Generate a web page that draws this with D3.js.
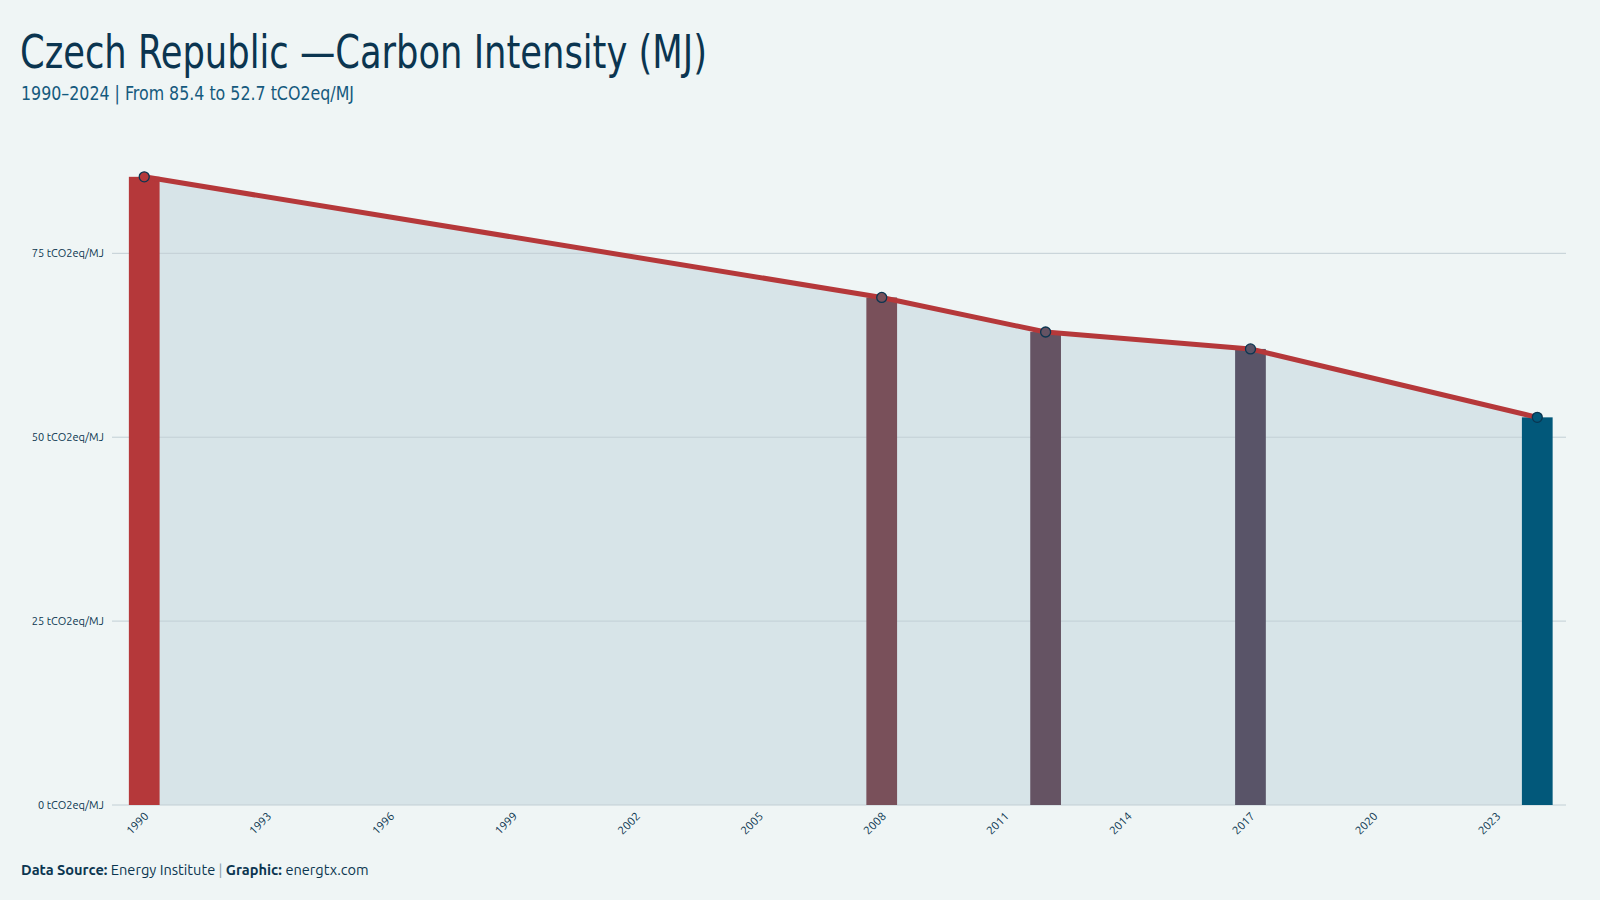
<!doctype html>
<html lang="en">
    <head>
        <meta charset="utf-8">
        <title>Czech Republic - Carbon Intensity</title>
        <script type="text/javascript" src="https://cdn.jsdelivr.net/npm/d3@7"></script>
        <style>
            body { margin: 0; background: #eff5f5; }
            svg { display: block; }
            .ylab { font-family: "Ubuntu", "Noto Sans", sans-serif; font-size: 11px; fill: #0b3550; }
            .xlab { font-family: "Ubuntu", "Noto Sans", sans-serif; font-size: 11.5px; fill: #0b3550; }
            .footer { font-family: "Ubuntu", "Noto Sans", sans-serif; font-size: 14.6px; fill: #0b3550; }
        </style>
    </head>
    <body>
        <script type="text/javascript">

            var svgW = 1600;
            var svgH = 900;

            // data
            var allYears = d3.range(1990, 2025);
            var years = [1990, 2008, 2012, 2017, 2024];
            var intensity = [85.4, 69.0, 64.3, 62.0, 52.7];
            var yTicks = [0, 25, 50, 75];
            var xTickYears = [1990, 1993, 1996, 1999, 2002, 2005, 2008, 2011, 2014, 2017, 2020, 2023];

            var data = years.map((y, i) => ({year: y, value: intensity[i]}));

            var plot = {left: 112, right: 1566, top: 114, bottom: 805};

            var svg = d3.select("body")
                        .append("svg")
                        .attr("width", svgW)
                        .attr("height", svgH);

            svg.append("rect")
               .attr("width", svgW)
               .attr("height", svgH)
               .attr("fill", "#eff5f5");

            var x = d3.scaleBand()
                      .domain(allYears)
                      .range([plot.left + 1.5, plot.right + 2])
                      .paddingInner(0.25)
                      .paddingOuter(0.375);

            var y = d3.scaleLinear()
                      .domain([0, d3.max(intensity) * 1.1])
                      .range([plot.bottom, plot.top]);

            var color = d3.scaleLinear()
                          .domain([d3.min(intensity), d3.max(intensity)])
                          .range(["#02587a", "#b5383a"])
                          .interpolate(d3.interpolateLab);

            var cx = d => x(d.year) + x.bandwidth() / 2;

            // area under line
            var area = d3.area()
                         .x(cx)
                         .y0(y(0))
                         .y1(d => y(d.value));

            svg.append("path")
               .datum(data)
               .attr("d", area)
               .attr("fill", "#d7e4e8");

            // gridlines
            svg.append("g")
               .selectAll("line")
               .data(yTicks)
               .enter()
               .append("line")
               .attr("x1", plot.left)
               .attr("x2", plot.right)
               .attr("y1", d => y(d))
               .attr("y2", d => y(d))
               .attr("stroke", "#c2cfd5")
               .attr("stroke-width", 1);

            svg.append("g")
               .selectAll("text")
               .data(yTicks)
               .enter()
               .append("text")
               .attr("class", "ylab")
               .attr("x", 104)
               .attr("y", d => y(d))
               .attr("dy", "0.35em")
               .attr("text-anchor", "end")
               .text(d => d + " tCO2eq/MJ");

            // bars
            svg.append("g")
               .selectAll("rect")
               .data(data)
               .enter()
               .append("rect")
               .attr("x", d => x(d.year))
               .attr("y", d => y(d.value))
               .attr("width", x.bandwidth())
               .attr("height", d => y(0) - y(d.value))
               .attr("fill", d => color(d.value));

            // line
            var line = d3.line()
                         .x(cx)
                         .y(d => y(d.value));

            svg.append("path")
               .datum(data)
               .attr("d", line)
               .attr("fill", "none")
               .attr("stroke", "#b5383a")
               .attr("stroke-width", 5)
               .attr("stroke-linejoin", "round");

            svg.append("g")
               .selectAll("circle")
               .data(data)
               .enter()
               .append("circle")
               .attr("cx", cx)
               .attr("cy", d => y(d.value))
               .attr("r", 5)
               .attr("fill", d => color(d.value))
               .attr("stroke", "#0b3550")
               .attr("stroke-width", 1.3);

            // x labels
            svg.append("g")
               .selectAll("text")
               .data(xTickYears)
               .enter()
               .append("text")
               .attr("class", "xlab")
               .attr("text-anchor", "end")
               .attr("transform", d => "translate(" + (x(d) + x.bandwidth() / 2 + 5) + "," + (plot.bottom + 12) + ") rotate(-45)")
               .text(d => d);

            // titles
            var title = svg.append("text")
                           .attr("x", 20)
                           .attr("y", 68)
                           .style("font-family", "'Ubuntu Condensed', 'Liberation Sans Narrow', 'DejaVu Sans Condensed', sans-serif")
                           .style("font-size", "46px")
                           .style("font-weight", 300)
                           .attr("fill", "#0b3550")
                           .text("Czech Republic \u2014Carbon Intensity (MJ)");
            title.attr("textLength", 687).attr("lengthAdjust", "spacingAndGlyphs");

            svg.append("text")
               .attr("x", 21)
               .attr("y", 100)
               .style("font-family", "'Ubuntu Condensed', 'Liberation Sans Narrow', 'DejaVu Sans Condensed', sans-serif")
               .style("font-size", "20px")
               .attr("fill", "#155a7e")
               .attr("textLength", 333)
               .attr("lengthAdjust", "spacingAndGlyphs")
               .text("1990\u20132024 | From 85.4 to 52.7 tCO2eq/MJ");

            // footer
            var foot = svg.append("text")
                          .attr("class", "footer")
                          .attr("x", 21)
                          .attr("y", 875);
            foot.append("tspan").style("font-weight", "bold").text("Data Source: ");
            foot.append("tspan").text("Energy Institute ");
            foot.append("tspan").attr("fill", "#8aa0ad").text("| ");
            foot.append("tspan").style("font-weight", "bold").text("Graphic: ");
            foot.append("tspan").text("energtx.com");
        </script>
    </body>
</html>
